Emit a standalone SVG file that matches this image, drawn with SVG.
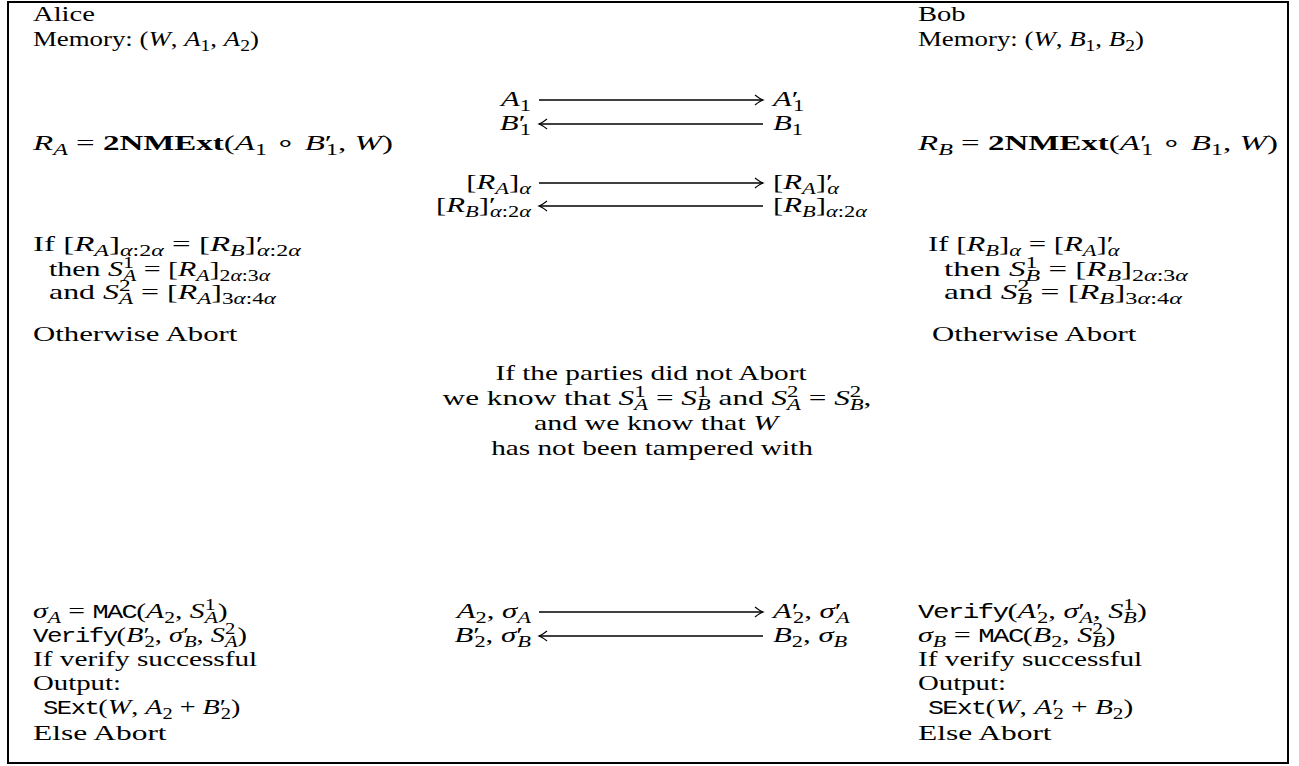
<svg xmlns="http://www.w3.org/2000/svg" width="1299" height="766" viewBox="0 0 1299 766">
<style>
.t{font-family:"Liberation Serif","Times New Roman",serif;font-size:22px;fill:#000}
.i{font-style:italic}
.b{font-weight:bold}
.m{font-family:"Liberation Mono","Courier New",monospace;font-size:20px;letter-spacing:-1.2px}
.s{font-size:16px}
.arr{stroke:#000;stroke-width:1.3;fill:none}
</style>
<defs>
<marker id="ah" viewBox="-10 -6 12 12" markerWidth="12" markerHeight="12" refX="0" refY="0" orient="auto" markerUnits="userSpaceOnUse">
<path d="M-8,-5 Q-3,-1 0,0 Q-3,1 -8,5" fill="none" stroke="#000" stroke-width="1.2"/>
</marker>
</defs>
<rect x="0" y="0" width="1299" height="766" fill="#fff"/>
<rect id="frame" x="8" y="2" width="1280" height="761" fill="none" stroke="#000" stroke-width="2"/>

<g id="alice">
<text class="t" transform="translate(33,21) scale(1.3,1)">Alice</text>
<text class="t" transform="translate(33,46) scale(1.22,1)">Memory: (<tspan class="i">W</tspan>, <tspan class="i">A</tspan><tspan class="s" dy="5">1</tspan><tspan dy="-5">, </tspan><tspan class="i">A</tspan><tspan class="s" dy="5">2</tspan><tspan dy="-5">)</tspan></text>
<text class="t" transform="translate(33,150) scale(1.5,1)"><tspan class="i">R</tspan><tspan class="s i" dy="5">A</tspan><tspan dy="-5"> = </tspan><tspan class="b">2NMExt</tspan>(<tspan class="i">A</tspan><tspan class="s" dy="5">1</tspan><tspan dy="-5"> ∘ </tspan><tspan class="i">B</tspan>′<tspan class="s" dx="-4" dy="5">1</tspan><tspan dy="-5">, </tspan><tspan class="i">W</tspan>)</text>
<text class="t" transform="translate(33,251) scale(1.5,1)">If [<tspan class="i">R</tspan><tspan class="s i" dy="5">A</tspan><tspan dy="-5">]</tspan><tspan class="s" dy="5"><tspan class="i">α</tspan>:2<tspan class="i">α</tspan></tspan><tspan dy="-5"> = [</tspan><tspan class="i">R</tspan><tspan class="s i" dy="5">B</tspan><tspan dy="-5">]′</tspan><tspan class="s" dx="-4" dy="5"><tspan class="i">α</tspan>:2<tspan class="i">α</tspan></tspan></text>
<text class="t" transform="translate(49,276) scale(1.36,1)">then <tspan class="i">S</tspan><tspan class="s" dy="-8">1</tspan><tspan class="s i" dx="-8" dy="13">A</tspan><tspan dy="-5"> = [</tspan><tspan class="i">R</tspan><tspan class="s i" dy="5">A</tspan><tspan dy="-5">]</tspan><tspan class="s" dy="5">2<tspan class="i">α</tspan>:3<tspan class="i">α</tspan></tspan></text>
<text class="t" transform="translate(49,299) scale(1.45,1)">and <tspan class="i">S</tspan><tspan class="s" dy="-8">2</tspan><tspan class="s i" dx="-8" dy="13">A</tspan><tspan dy="-5"> = [</tspan><tspan class="i">R</tspan><tspan class="s i" dy="5">A</tspan><tspan dy="-5">]</tspan><tspan class="s" dy="5">3<tspan class="i">α</tspan>:4<tspan class="i">α</tspan></tspan></text>
<text class="t" transform="translate(33,341) scale(1.4,1)">Otherwise Abort</text>
<text class="t" transform="translate(33,618) scale(1.35,1)"><tspan class="i">σ</tspan><tspan class="s i" dy="5">A</tspan><tspan dy="-5"> = </tspan><tspan class="m">MAC</tspan>(<tspan class="i">A</tspan><tspan class="s" dy="5">2</tspan><tspan dy="-5">, </tspan><tspan class="i">S</tspan><tspan class="s" dy="-8">1</tspan><tspan class="s i" dx="-8" dy="13">A</tspan><tspan dy="-5">)</tspan></text>
<text class="t" transform="translate(33,642) scale(1.29,1)"><tspan class="m">Verify</tspan>(<tspan class="i">B</tspan>′<tspan class="s" dx="-4" dy="5">2</tspan><tspan dy="-5">, </tspan><tspan class="i">σ</tspan>′<tspan class="s i" dx="-4" dy="5">B</tspan><tspan dy="-5">, </tspan><tspan class="i">S</tspan><tspan class="s" dy="-8">2</tspan><tspan class="s i" dx="-8" dy="13">A</tspan><tspan dy="-5">)</tspan></text>
<text class="t" transform="translate(33,666) scale(1.33,1)">If verify successful</text>
<text class="t" transform="translate(33,690) scale(1.31,1)">Output:</text>
<text class="t" transform="translate(43,714) scale(1.28,1)"><tspan class="m">SExt</tspan>(<tspan class="i">W</tspan>, <tspan class="i">A</tspan><tspan class="s" dy="5">2</tspan><tspan dy="-5"> + </tspan><tspan class="i">B</tspan>′<tspan class="s" dx="-4" dy="5">2</tspan><tspan dy="-5">)</tspan></text>
<text class="t" transform="translate(33,740) scale(1.43,1)">Else Abort</text>
</g>

<g id="bob">
<text class="t" transform="translate(918,21) scale(1.3,1)">Bob</text>
<text class="t" transform="translate(918,46) scale(1.22,1)">Memory: (<tspan class="i">W</tspan>, <tspan class="i">B</tspan><tspan class="s" dy="5">1</tspan><tspan dy="-5">, </tspan><tspan class="i">B</tspan><tspan class="s" dy="5">2</tspan><tspan dy="-5">)</tspan></text>
<text class="t" transform="translate(918,150) scale(1.5,1)"><tspan class="i">R</tspan><tspan class="s i" dy="5">B</tspan><tspan dy="-5"> = </tspan><tspan class="b">2NMExt</tspan>(<tspan class="i">A</tspan>′<tspan class="s" dx="-4" dy="5">1</tspan><tspan dy="-5"> ∘ </tspan><tspan class="i">B</tspan><tspan class="s" dy="5">1</tspan><tspan dy="-5">, </tspan><tspan class="i">W</tspan>)</text>
<text class="t" transform="translate(928,251) scale(1.4,1)">If [<tspan class="i">R</tspan><tspan class="s i" dy="5">B</tspan><tspan dy="-5">]</tspan><tspan class="s i" dy="5">α</tspan><tspan dy="-5"> = [</tspan><tspan class="i">R</tspan><tspan class="s i" dy="5">A</tspan><tspan dy="-5">]′</tspan><tspan class="s i" dx="-4" dy="5">α</tspan></text>
<text class="t" transform="translate(944,276) scale(1.5,1)">then <tspan class="i">S</tspan><tspan class="s" dy="-8">1</tspan><tspan class="s i" dx="-8" dy="13">B</tspan><tspan dy="-5"> = [</tspan><tspan class="i">R</tspan><tspan class="s i" dy="5">B</tspan><tspan dy="-5">]</tspan><tspan class="s" dy="5">2<tspan class="i">α</tspan>:3<tspan class="i">α</tspan></tspan></text>
<text class="t" transform="translate(944,299) scale(1.52,1)">and <tspan class="i">S</tspan><tspan class="s" dy="-8">2</tspan><tspan class="s i" dx="-8" dy="13">B</tspan><tspan dy="-5"> = [</tspan><tspan class="i">R</tspan><tspan class="s i" dy="5">B</tspan><tspan dy="-5">]</tspan><tspan class="s" dy="5">3<tspan class="i">α</tspan>:4<tspan class="i">α</tspan></tspan></text>
<text class="t" transform="translate(932,341) scale(1.4,1)">Otherwise Abort</text>
<text class="t" transform="translate(918,618) scale(1.38,1)"><tspan class="m">Verify</tspan>(<tspan class="i">A</tspan>′<tspan class="s" dx="-4" dy="5">2</tspan><tspan dy="-5">, </tspan><tspan class="i">σ</tspan>′<tspan class="s i" dx="-4" dy="5">A</tspan><tspan dy="-5">, </tspan><tspan class="i">S</tspan><tspan class="s" dy="-8">1</tspan><tspan class="s i" dx="-8" dy="13">B</tspan><tspan dy="-5">)</tspan></text>
<text class="t" transform="translate(918,642) scale(1.37,1)"><tspan class="i">σ</tspan><tspan class="s i" dy="5">B</tspan><tspan dy="-5"> = </tspan><tspan class="m">MAC</tspan>(<tspan class="i">B</tspan><tspan class="s" dy="5">2</tspan><tspan dy="-5">, </tspan><tspan class="i">S</tspan><tspan class="s" dy="-8">2</tspan><tspan class="s i" dx="-8" dy="13">B</tspan><tspan dy="-5">)</tspan></text>
<text class="t" transform="translate(918,666) scale(1.33,1)">If verify successful</text>
<text class="t" transform="translate(918,690) scale(1.31,1)">Output:</text>
<text class="t" transform="translate(928,714) scale(1.33,1)"><tspan class="m">SExt</tspan>(<tspan class="i">W</tspan>, <tspan class="i">A</tspan>′<tspan class="s" dx="-4" dy="5">2</tspan><tspan dy="-5"> + </tspan><tspan class="i">B</tspan><tspan class="s" dy="5">2</tspan><tspan dy="-5">)</tspan></text>
<text class="t" transform="translate(918,740) scale(1.43,1)">Else Abort</text>
</g>

<g id="msg-left" text-anchor="end">
<text class="t" transform="translate(531,106) scale(1.4,1)"><tspan class="i">A</tspan><tspan class="s" dy="5">1</tspan></text>
<text class="t" transform="translate(531,130) scale(1.4,1)"><tspan class="i">B</tspan>′<tspan class="s" dx="-4" dy="5">1</tspan></text>
<text class="t" transform="translate(531,189) scale(1.4,1)">[<tspan class="i">R</tspan><tspan class="s i" dy="5">A</tspan><tspan dy="-5">]</tspan><tspan class="s i" dy="5">α</tspan></text>
<text class="t" transform="translate(531,212) scale(1.4,1)">[<tspan class="i">R</tspan><tspan class="s i" dy="5">B</tspan><tspan dy="-5">]′</tspan><tspan class="s" dx="-4" dy="5"><tspan class="i">α</tspan>:2<tspan class="i">α</tspan></tspan></text>
<text class="t" transform="translate(531,618) scale(1.4,1)"><tspan class="i">A</tspan><tspan class="s" dy="5">2</tspan><tspan dy="-5">, </tspan><tspan class="i">σ</tspan><tspan class="s i" dy="5">A</tspan></text>
<text class="t" transform="translate(531,642) scale(1.4,1)"><tspan class="i">B</tspan>′<tspan class="s" dx="-4" dy="5">2</tspan><tspan dy="-5">, </tspan><tspan class="i">σ</tspan>′<tspan class="s i" dx="-4" dy="5">B</tspan></text>
</g>

<g id="msg-right">
<text class="t" transform="translate(773,106) scale(1.4,1)"><tspan class="i">A</tspan>′<tspan class="s" dx="-4" dy="5">1</tspan></text>
<text class="t" transform="translate(773,130) scale(1.4,1)"><tspan class="i">B</tspan><tspan class="s" dy="5">1</tspan></text>
<text class="t" transform="translate(773,189) scale(1.4,1)">[<tspan class="i">R</tspan><tspan class="s i" dy="5">A</tspan><tspan dy="-5">]′</tspan><tspan class="s i" dx="-4" dy="5">α</tspan></text>
<text class="t" transform="translate(773,212) scale(1.4,1)">[<tspan class="i">R</tspan><tspan class="s i" dy="5">B</tspan><tspan dy="-5">]</tspan><tspan class="s" dy="5"><tspan class="i">α</tspan>:2<tspan class="i">α</tspan></tspan></text>
<text class="t" transform="translate(773,618) scale(1.4,1)"><tspan class="i">A</tspan>′<tspan class="s" dx="-4" dy="5">2</tspan><tspan dy="-5">, </tspan><tspan class="i">σ</tspan>′<tspan class="s i" dx="-4" dy="5">A</tspan></text>
<text class="t" transform="translate(773,642) scale(1.4,1)"><tspan class="i">B</tspan><tspan class="s" dy="5">2</tspan><tspan dy="-5">, </tspan><tspan class="i">σ</tspan><tspan class="s i" dy="5">B</tspan></text>
</g>

<g id="note" text-anchor="middle">
<text class="t" transform="translate(651,380) scale(1.33,1)">If the parties did not Abort</text>
<text class="t" transform="translate(657,405) scale(1.42,1)">we know that <tspan class="i">S</tspan><tspan class="s" dy="-8">1</tspan><tspan class="s i" dx="-8" dy="13">A</tspan><tspan dy="-5"> = </tspan><tspan class="i">S</tspan><tspan class="s" dy="-8">1</tspan><tspan class="s i" dx="-8" dy="13">B</tspan><tspan dy="-5"> and </tspan><tspan class="i">S</tspan><tspan class="s" dy="-8">2</tspan><tspan class="s i" dx="-8" dy="13">A</tspan><tspan dy="-5"> = </tspan><tspan class="i">S</tspan><tspan class="s" dy="-8">2</tspan><tspan class="s i" dx="-8" dy="13">B</tspan><tspan dy="-5">,</tspan></text>
<text class="t" transform="translate(656,430) scale(1.36,1)">and we know that <tspan class="i">W</tspan></text>
<text class="t" transform="translate(652,455) scale(1.33,1)">has not been tampered with</text>
</g>

<g id="connectors" class="arr">
<line x1="539" y1="100" x2="763" y2="100" marker-end="url(#ah)"/>
<line x1="763" y1="124" x2="539" y2="124" marker-end="url(#ah)"/>
<line x1="539" y1="183" x2="763" y2="183" marker-end="url(#ah)"/>
<line x1="763" y1="206" x2="539" y2="206" marker-end="url(#ah)"/>
<line x1="539" y1="612" x2="763" y2="612" marker-end="url(#ah)"/>
<line x1="763" y1="636" x2="539" y2="636" marker-end="url(#ah)"/>
</g>
</svg>
